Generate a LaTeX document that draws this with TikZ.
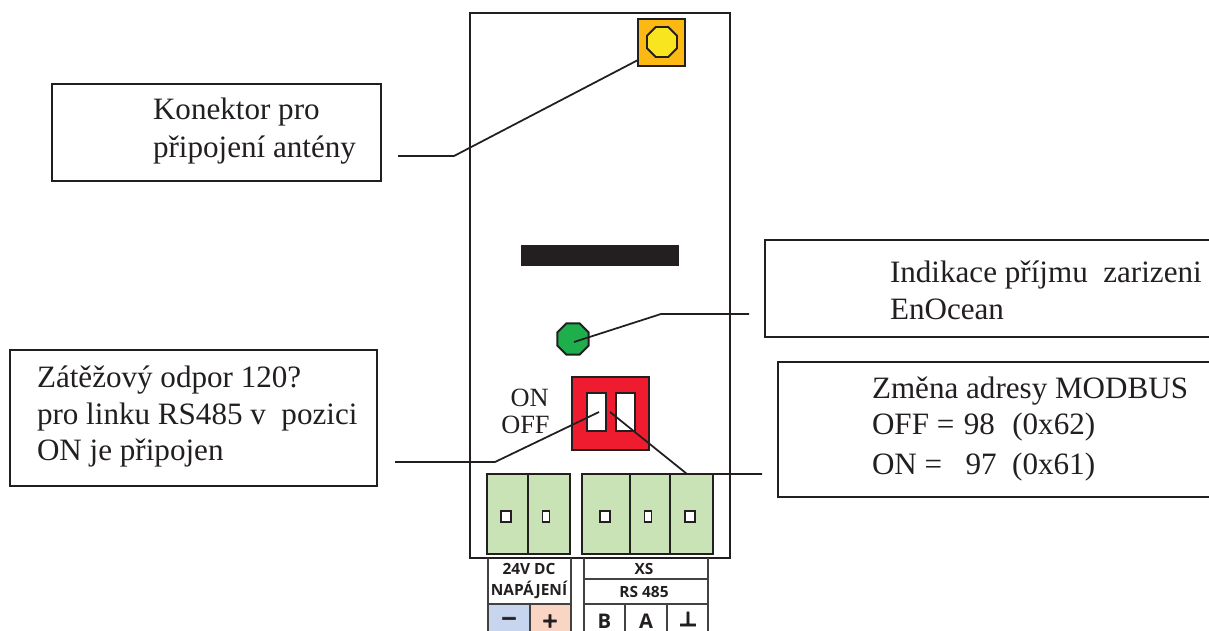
\documentclass[tikz,border=0pt]{standalone}
\usepackage{fontspec}
\setmainfont{Liberation Serif}
\newfontfamily\labelfont{Open Sans}
\newfontfamily\symbfont[FakeBold=3]{DejaVu Sans}
\usetikzlibrary{shapes.geometric}
\definecolor{inkblack}{HTML}{231F20}
\definecolor{antorange}{HTML}{FDB913}
\definecolor{antyellow}{HTML}{F9E51F}
\definecolor{ledgreen}{HTML}{1EAE4B}
\definecolor{dipred}{HTML}{EE1C2E}
\definecolor{termgreen}{HTML}{C9E3B7}
\definecolor{minusblue}{HTML}{C7D6EE}
\definecolor{pluspeach}{HTML}{FBD5C3}
\tikzset{
  outline/.style={draw=inkblack,line width=1.1pt},
  leader/.style={draw=inkblack,line width=1pt},
  thinline/.style={draw=inkblack!85,line width=0.75pt},
  octa/.style={regular polygon,regular polygon sides=8,draw=inkblack,line width=1.1pt,inner sep=0,outer sep=0},
  calltext/.style={anchor=north west,align=left,inner sep=0,outer sep=0,text=inkblack,font=\fontsize{17.7}{20.6}\selectfont},
  tablabel/.style={inner sep=0,outer sep=0,text=inkblack,align=center,font=\labelfont\bfseries\fontsize{8.8}{11.5}\selectfont},
  tabsign/.style={inner sep=0,outer sep=0,text=inkblack,font=\labelfont\bfseries\fontsize{11.5}{12}\selectfont}
}
\begin{document}
\begin{tikzpicture}[x=0.02cm,y=-0.02cm]
\useasboundingbox (0,0) rectangle (1209,631);
\clip (0,0) rectangle (1209,631);

% housing
\draw[outline] (470,13) rectangle (730,558);

% antenna connector
\draw[outline,fill=antorange] (638,19) rectangle (685,66);
\node[octa,fill=antyellow,minimum size=0.65cm] (ANT) at (662,42) {};

% slot and led
\fill[inkblack] (521,245) rectangle (679,266);
\node[octa,fill=ledgreen,minimum size=0.68cm] (LED) at (573,339) {};

% dip switch
\draw[outline,fill=dipred] (572,377) rectangle (649,450);
\draw[outline,fill=white] (587,393) rectangle (606,431);
\draw[outline,fill=white] (616,393) rectangle (635,431);
\node[anchor=base east,align=right,inner sep=0,text=inkblack,font=\fontsize{15}{16}\selectfont] (ON) at (549,406) {ON};
\node[anchor=base east,align=right,inner sep=0,text=inkblack,font=\fontsize{15}{16}\selectfont] (OFF) at (550,433) {OFF};

% terminals
\foreach \xa/\xb in {487/528,528/570,582/630,630/670,670/713}
  \draw[outline,fill=termgreen] (\xa,474) rectangle (\xb,554);
\foreach \xc/\wd in {506/5,546/3.5,605/5,648/3.5,690/5}
  \draw[outline,fill=white] (\xc-\wd,511) rectangle (\xc+\wd,522);

% power table
\draw[thinline,fill=minusblue] (488,604) rectangle (530,640);
\draw[thinline,fill=pluspeach] (530,604) rectangle (571,640);
\draw[thinline] (488,558) -- (488,604);
\draw[thinline] (571,558) -- (571,604);
\node[tablabel] (PWR) at (529,581) {24V DC\\NAPÁJENÍ};
\node[tabsign] (MINUS) at (509,621) {\symbfont −};
\node[tabsign] (PLUS) at (550,621) {\symbfont +};

% bus table
\draw[thinline] (584,558) -- (584,640);
\draw[thinline] (708,558) -- (708,640);
\draw[thinline] (584,579) -- (708,579);
\draw[thinline] (584,604) -- (708,604);
\draw[thinline] (625,604) -- (625,640);
\draw[thinline] (667,604) -- (667,640);
\node[tablabel] (XS) at (644,568.5) {XS};
\node[tablabel] (BUS) at (644,592) {RS 485};
\node[tabsign] (B) at (604.5,621) {B};
\node[tabsign] (A) at (646,621) {A};
\node[tabsign] (GND) at (688,619) {\symbfont ⊥};

% callout boxes
\draw[outline,fill=white] (52,84) rectangle (381,181);
\draw[outline,fill=white] (765,240) rectangle (1220,337);
\draw[outline,fill=white] (10,350) rectangle (377,486);
\draw[outline,fill=white] (778,362) rectangle (1220,497);

\node[calltext] (ANTTXT) at (153,98) {Konektor pro\\[1pt]připojení antény};
\node[calltext] (LEDTXT) at (890,261) {Indikace příjmu\ \ zarizeni\\[0.5pt]EnOcean};
\node[calltext] (RESTXT) at (37,366) {Zátěžový odpor 120?\\[0.5pt]pro linku RS485 v\ \ pozici\\ON je připojen};
\node[calltext] (ADRTXT) at (872,377) {Změna adresy MODBUS\\OFF =\hspace{1pt} 98\hspace{1pt}\ \ (0x62)\\[2pt]ON =\ \ \ 97\ \ (0x61)};

% leaders
\coordinate (ANTIN) at (638,60);
\coordinate (ANTK) at (454,156);
\coordinate (ANTEND) at (398,156);
\coordinate (LEDIN) at (574,342);
\coordinate (LEDK) at (661,314);
\coordinate (LEDEND) at (749,314);
\coordinate (RESIN) at (599,412);
\coordinate (RESK) at (495,462);
\coordinate (RESEND) at (395,462);
\coordinate (ADRIN) at (610,412);
\coordinate (ADRK) at (687,474);
\coordinate (ADREND) at (762,474);
\draw[leader] (ANTIN) -- (ANTK) -- (ANTEND);
\draw[leader] (LEDIN) -- (LEDK) -- (LEDEND);
\draw[leader] (RESIN) -- (RESK) -- (RESEND);
\draw[leader] (ADRIN) -- (ADRK) -- (ADREND);
\end{tikzpicture}
\end{document}
